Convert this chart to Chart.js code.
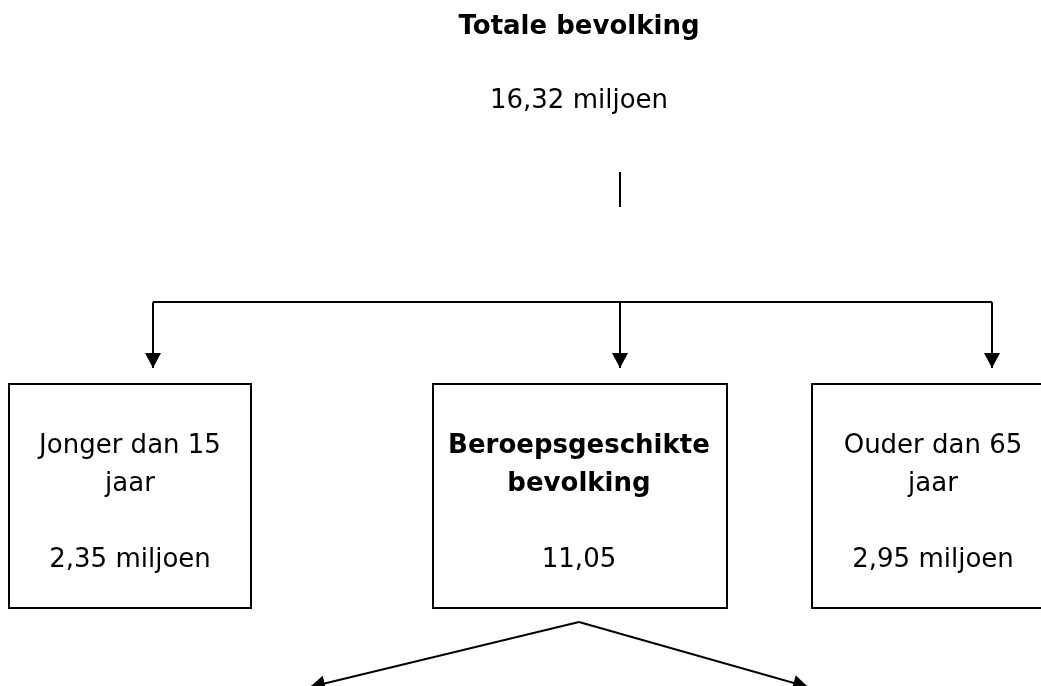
<!DOCTYPE html>
<html>
<head>
<meta charset="utf-8">
<script src="https://cdn.jsdelivr.net/npm/chart.js@4"></script>
<style>
  html, body { margin: 0; padding: 0; background: #ffffff; }
  #wrap { width: 1041px; height: 686px; position: relative; }
</style>
</head>
<body>
<div id="wrap"><canvas id="chart"></canvas></div>
<script>
// Data: population breakdown (miljoen)
const nodeLabels = [
    ['Totale bevolking'],
    ['Jonger dan 15', 'jaar'],
    ['Beroepsgeschikte', 'bevolking'],
    ['Ouder dan 65', 'jaar']
];
const nodeValues = [16.32, 2.35, 11.05, 2.95];
const nodeUnits = ['miljoen', 'miljoen', '', 'miljoen'];
const nodeBold = [true, false, true, false];

// Layout of the diagram (in scale units, 1 unit = 1 px)
const nodeBoxes = [
    null,
    { x0: 9, y0: 384, x1: 251, y1: 608 },
    { x0: 433, y0: 384, x1: 727, y1: 608 },
    { x0: 812, y0: 384, x1: 1070, y1: 608 }
];
const nodeTextX = [579, 130, 579, 933];
const connectors = [
    { pts: [[620, 172], [620, 207]], arrow: false },
    { pts: [[153, 302], [992, 302]], arrow: false },
    { pts: [[153, 302], [153, 368]], arrow: true },
    { pts: [[620, 302], [620, 368]], arrow: true },
    { pts: [[992, 302], [992, 368]], arrow: true },
    { pts: [[579, 622], [310, 687]], arrow: true },
    { pts: [[579, 622], [808, 687]], arrow: true }
];

const FONT = "'DejaVu Sans', Verdana, sans-serif";
const FONT_SIZE = 26;

function formatValue(i) {
    const txt = nodeValues[i].toFixed(2).replace('.', ',');
    return nodeUnits[i] ? txt + ' ' + nodeUnits[i] : txt;
}

const diagramPlugin = {
    id: 'diagram',
    afterDatasetsDraw(chart) {
        const ctx = chart.ctx;
        const xs = chart.scales.x;
        const ys = chart.scales.y;
        const px = v => xs.getPixelForValue(v);
        const py = v => ys.getPixelForValue(v);

        ctx.save();
        ctx.strokeStyle = '#000';
        ctx.fillStyle = '#000';
        ctx.lineWidth = 2;

        // boxes
        nodeBoxes.forEach(b => {
            if (!b) return;
            ctx.strokeRect(px(b.x0), py(b.y0), px(b.x1) - px(b.x0), py(b.y1) - py(b.y0));
        });

        // arrow heads
        connectors.forEach(c => {
            if (!c.arrow) return;
            const a = c.pts[c.pts.length - 2];
            const b = c.pts[c.pts.length - 1];
            const tx = px(b[0]), ty = py(b[1]);
            const ang = Math.atan2(ty - py(a[1]), tx - px(a[0]));
            const len = 15, half = 8;
            ctx.beginPath();
            ctx.moveTo(tx, ty);
            ctx.lineTo(tx - len * Math.cos(ang) + half * Math.sin(ang), ty - len * Math.sin(ang) - half * Math.cos(ang));
            ctx.lineTo(tx - len * Math.cos(ang) - half * Math.sin(ang), ty - len * Math.sin(ang) + half * Math.cos(ang));
            ctx.closePath();
            ctx.fill();
        });

        // texts
        ctx.textAlign = 'center';
        ctx.textBaseline = 'alphabetic';
        nodeLabels.forEach((lines, i) => {
            const x = px(nodeTextX[i]);
            ctx.font = (nodeBold[i] ? 'bold ' : '') + FONT_SIZE + 'px ' + FONT;
            if (i === 0) {
                ctx.fillText(lines[0], x, py(34));
                ctx.font = FONT_SIZE + 'px ' + FONT;
                ctx.fillText(formatValue(i), x, py(108));
                return;
            }
            lines.forEach((line, k) => ctx.fillText(line, x, py(453 + k * 38)));
            ctx.font = FONT_SIZE + 'px ' + FONT;
            ctx.fillText(formatValue(i), x, py(567));
        });
        ctx.restore();
    }
};

const chart = new Chart(document.getElementById('chart'), {
    type: 'scatter',
    data: {
        datasets: connectors.map(c => ({
            data: c.pts.map(p => ({ x: p[0], y: p[1] })),
            showLine: true,
            borderColor: '#000',
            borderWidth: 2,
            pointRadius: 0,
            fill: false,
            clip: false
        }))
    },
    options: {
        responsive: true,
        maintainAspectRatio: false,
        animation: false,
        layout: { padding: 0 },
        plugins: {
            legend: { display: false },
            tooltip: { enabled: false }
        },
        scales: {
            x: { type: 'linear', min: 0, max: 1041, display: false },
            y: { type: 'linear', min: 0, max: 686, reverse: true, display: false }
        }
    },
    plugins: [diagramPlugin]
});
</script>
</body>
</html>
